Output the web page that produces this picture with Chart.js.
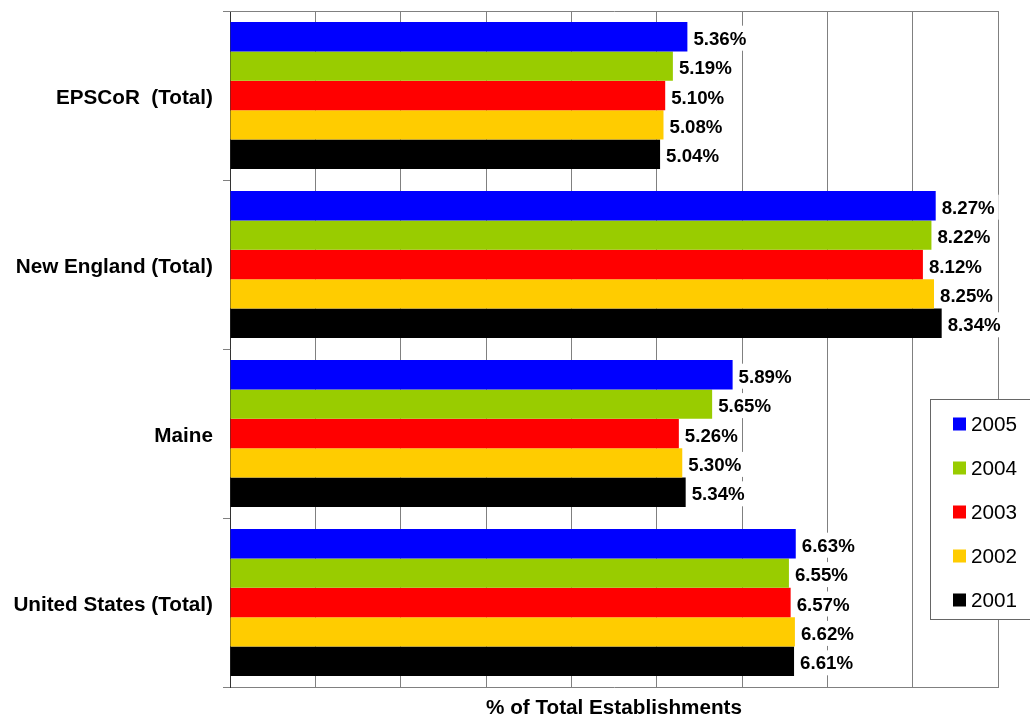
<!DOCTYPE html>
<html>
<head>
<meta charset="utf-8">
<script src="https://cdn.jsdelivr.net/npm/chart.js@4.4.0/dist/chart.umd.min.js"></script>
<style>
  body { margin: 0; background: #fff; }
  canvas { display: block; }
</style>
</head>
<body>
<canvas id="canvas" width="1030" height="717"></canvas>
<script>
const categories = ['EPSCoR  (Total)', 'New England (Total)', 'Maine', 'United States (Total)'];
const years = ['2005', '2004', '2003', '2002', '2001'];
const colors = ['#0000ff', '#99cc00', '#ff0000', '#ffcc00', '#000000'];

const values2005 = [5.36, 8.27, 5.89, 6.63];
const values2004 = [5.19, 8.22, 5.65, 6.55];
const values2003 = [5.10, 8.12, 5.26, 6.57];
const values2002 = [5.08, 8.25, 5.30, 6.62];
const values2001 = [5.04, 8.34, 5.34, 6.61];
const seriesValues = [values2005, values2004, values2003, values2002, values2001];

const xMin = 0;
const xMax = 9;

const FONT = '"Liberation Sans", Arial, sans-serif';
const GRID = '#808080';
Chart.defaults.font.family = FONT;

// value labels with a white box behind them
const barLabels = {
  id: 'barLabels',
  afterDatasetsDraw(chart) {
    const ctx = chart.ctx;
    ctx.save();
    ctx.font = 'bold 18.7px ' + FONT;
    ctx.textBaseline = 'middle';
    chart.data.datasets.forEach((ds, i) => {
      chart.getDatasetMeta(i).data.forEach((bar, j) => {
        const text = ds.data[j].toFixed(2) + '%';
        const w = ctx.measureText(text).width;
        ctx.fillStyle = '#fff';
        ctx.fillRect(bar.x + 1, bar.y - 11, w + 9, 25);
        ctx.fillStyle = '#000';
        ctx.fillText(text, bar.x + 6, bar.y + 3);
      });
    });
    ctx.restore();
  }
};

// top border of the plot and the boxed legend on the right
const frameAndLegend = {
  id: 'frameAndLegend',
  afterDraw(chart) {
    const ctx = chart.ctx;
    const area = chart.chartArea;
    ctx.save();
    ctx.strokeStyle = GRID;
    ctx.lineWidth = 1;
    ctx.beginPath();
    ctx.moveTo(area.left, Math.round(area.top) + 0.5);
    ctx.lineTo(area.right + 1, Math.round(area.top) + 0.5);
    ctx.stroke();

    ctx.fillStyle = '#fff';
    ctx.fillRect(930, 399, 110, 220);
    ctx.strokeStyle = '#666';
    ctx.strokeRect(930.5, 399.5, 110, 220);

    ctx.font = '20.7px ' + FONT;
    ctx.textBaseline = 'middle';
    chart.data.datasets.forEach((ds, i) => {
      const y = 424 + i * 44;
      ctx.fillStyle = ds.backgroundColor;
      ctx.fillRect(953, y - 6.5, 13, 13);
      ctx.fillStyle = '#000';
      ctx.fillText(ds.label, 971, y + 1);
    });
    ctx.restore();
  }
};

new Chart(document.getElementById('canvas'), {
  type: 'bar',
  data: {
    labels: categories,
    datasets: years.map((y, i) => ({
      label: y,
      data: seriesValues[i],
      backgroundColor: colors[i],
      borderWidth: 0,
      categoryPercentage: 0.87,
      barPercentage: 1.0
    }))
  },
  options: {
    indexAxis: 'y',
    responsive: false,
    animation: false,
    layout: { padding: { top: 11, right: 32, left: 0, bottom: 0 } },
    plugins: {
      legend: { display: false },
      tooltip: { enabled: false }
    },
    scales: {
      x: {
        min: xMin,
        max: xMax,
        ticks: { stepSize: 1, display: false },
        grid: { color: GRID, drawTicks: false },
        border: { color: GRID },
        title: {
          display: true,
          text: '% of Total Establishments',
          color: '#000',
          font: { size: 20.7, weight: 'bold', lineHeight: 0.85 },
          padding: 0
        },
        afterFit(scale) { scale.height = 30; }
      },
      y: {
        grid: { drawOnChartArea: false, tickLength: 7, color: GRID, offset: true },
        border: { color: '#333' },
        ticks: { color: '#000', padding: 10, labelOffset: 3, font: { size: 20.7, weight: 'bold' } },
        afterFit(scale) {
          scale.width = 230;
          scale.paddingTop = 0;
          scale.paddingBottom = 0;
        }
      }
    }
  },
  plugins: [barLabels, frameAndLegend]
});
</script>
</body>
</html>
